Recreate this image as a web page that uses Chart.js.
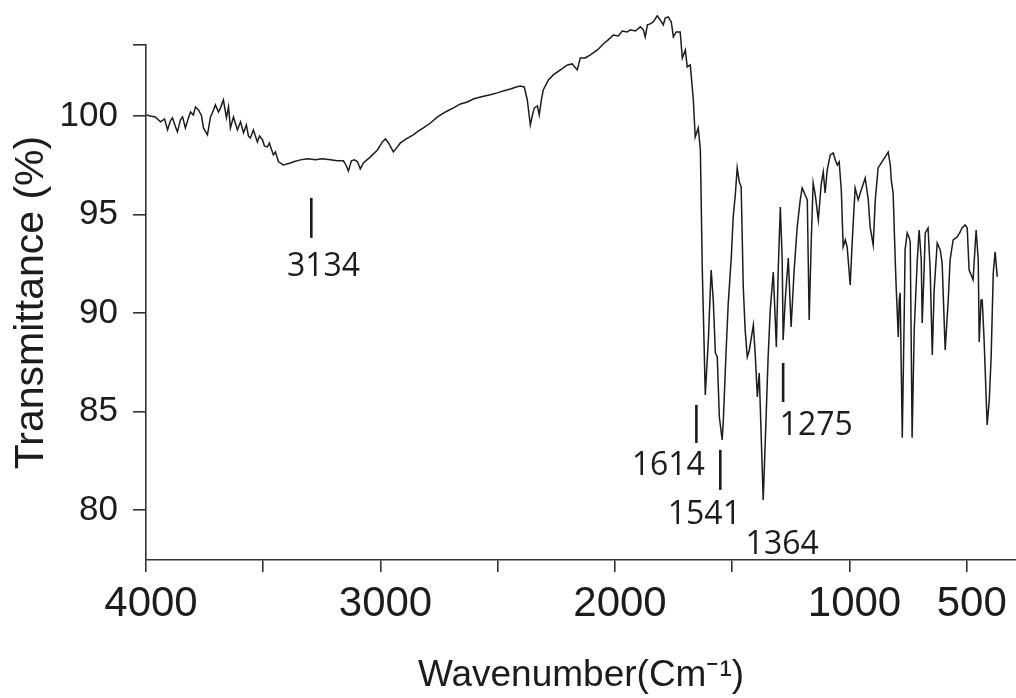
<!DOCTYPE html>
<html>
<head>
<meta charset="utf-8">
<title>IR spectrum</title>
<script src="https://cdn.jsdelivr.net/npm/chart.js@4.4.1/dist/chart.umd.min.js"></script>
<style>
  html, body { margin: 0; padding: 0; background: #fff; }
  #irChart { display: block; }
</style>
</head>
<body>
<canvas id="irChart" width="1016" height="698"></canvas>
<script>
// spectrum: wavenumber (cm-1) and transmittance (%)
const wavenumbers = [
  3998, 3981, 3960, 3938, 3921, 3908, 3896, 3887, 3874, 3866, 3853, 3844, 3832, 3819, 3810,
  3798, 3789, 3776, 3763, 3755, 3738, 3725, 3712, 3704, 3691, 3682, 3670, 3657, 3648, 3640,
  3627, 3610, 3597, 3584, 3572, 3563, 3555, 3542, 3525, 3516, 3503, 3495, 3482, 3474, 3457,
  3448, 3435, 3414, 3384, 3371, 3341, 3312, 3277, 3248, 3214, 3184, 3158, 3145, 3137, 3124,
  3111, 3098, 3086, 3073, 3043, 3013, 2992, 2979, 2966, 2945, 2928, 2915, 2890, 2860, 2838,
  2817, 2787, 2757, 2723, 2689, 2659, 2630, 2604, 2574, 2532, 2502, 2476, 2446, 2421, 2404,
  2387, 2374, 2361, 2352, 2344, 2331, 2323, 2314, 2306, 2284, 2263, 2233, 2203, 2182, 2169,
  2161, 2148, 2127, 2105, 2075, 2050, 2029, 2007, 1986, 1969, 1948, 1935, 1913, 1892, 1879,
  1871, 1862, 1850, 1837, 1820, 1807, 1794, 1786, 1773, 1760, 1751, 1739, 1722, 1713, 1700,
  1692, 1679, 1666, 1658, 1645, 1636, 1628, 1615, 1602, 1590, 1581, 1572, 1564, 1555, 1543,
  1538, 1526, 1517, 1504, 1496, 1487, 1479, 1470, 1462, 1453, 1445, 1436, 1427, 1410, 1402,
  1393, 1385, 1376, 1368, 1359, 1347, 1338, 1325, 1312, 1304, 1295, 1287, 1283, 1274, 1261,
  1249, 1236, 1223, 1210, 1202, 1189, 1180, 1172, 1163, 1155, 1146, 1133, 1121, 1112, 1104,
  1095, 1082, 1069, 1061, 1052, 1044, 1035, 1027, 1018, 1010, 997, 988, 976, 963, 950,
  933, 920, 912, 899, 890, 878, 856, 835, 826, 822, 814, 805, 801, 792, 788,
  784, 775, 767, 763, 754, 745, 741, 733, 724, 711, 703, 694, 690, 682, 677,
  665, 656, 647, 639, 626, 613, 605, 592, 579, 571, 558, 541, 528, 520, 507,
  498, 490, 481, 473, 460, 451, 447, 439, 434, 426, 413, 404, 396, 387, 379,
  370
];
const transmittance = [
  100.05, 100.00, 99.95, 99.70, 99.85, 99.29, 99.75, 99.90, 99.44, 99.19, 99.80, 99.95, 99.39, 99.90, 100.20,
  100.05, 100.46, 100.30, 100.00, 99.39, 99.04, 99.95, 100.30, 100.56, 100.20, 100.41, 100.81, 99.90, 100.46, 99.39,
  99.95, 99.29, 99.70, 99.14, 99.54, 98.98, 98.88, 99.29, 98.68, 98.98, 98.78, 98.48, 98.43, 98.63, 98.02,
  98.17, 97.67, 97.51, 97.61, 97.67, 97.77, 97.82, 97.77, 97.82, 97.77, 97.72, 97.72, 97.46, 97.21, 97.72,
  97.77, 97.67, 97.31, 97.61, 97.92, 98.27, 98.68, 98.83, 98.63, 98.17, 98.43, 98.63, 98.83, 99.04, 99.24,
  99.39, 99.64, 99.95, 100.20, 100.41, 100.61, 100.71, 100.86, 100.96, 101.07, 101.17, 101.27, 101.37, 101.47, 101.52,
  101.47, 100.81, 99.54, 100.05, 100.41, 100.51, 100.05, 100.81, 101.32, 101.83, 102.08, 102.34, 102.59, 102.64, 102.44,
  102.34, 102.94, 102.94, 103.10, 103.35, 103.65, 103.86, 104.11, 104.06, 104.31, 104.26, 104.37, 104.31, 104.52, 104.37,
  104.01, 104.62, 104.67, 104.77, 105.08, 104.87, 104.62, 104.97, 105.03, 104.77, 104.01, 104.26, 104.26, 102.94, 103.35,
  102.49, 102.59, 100.81, 98.93, 99.39, 98.27, 92.34, 85.84, 88.63, 92.18, 90.66, 87.97, 87.77, 84.72, 83.55,
  84.57, 88.12, 90.51, 92.84, 94.87, 95.99, 97.36, 96.65, 96.40, 91.32, 89.14, 87.77, 88.12, 89.39, 87.87,
  85.74, 86.95, 83.55, 80.51, 83.55, 87.77, 90.15, 92.08, 88.27, 92.18, 95.38, 92.69, 88.63, 90.66, 92.79,
  89.29, 92.18, 94.37, 95.74, 96.35, 95.99, 95.74, 89.64, 93.71, 96.60, 95.99, 94.72, 96.50, 97.16, 96.09,
  97.26, 98.02, 98.12, 97.77, 97.51, 97.67, 96.24, 93.35, 93.71, 93.35, 91.42, 93.71, 96.35, 95.74, 96.24,
  96.85, 95.74, 94.37, 93.45, 95.74, 97.36, 97.77, 98.17, 97.51, 96.75, 96.09, 92.69, 91.32, 88.78, 90.66,
  91.02, 83.66, 89.64, 93.20, 94.06, 93.81, 93.60, 83.66, 89.14, 92.69, 94.21, 92.69, 89.49, 92.18, 94.06,
  94.31, 92.18, 87.87, 91.17, 93.55, 93.20, 92.54, 88.12, 90.66, 92.69, 93.71, 93.86, 94.11, 94.31, 94.47,
  94.31, 92.18, 91.93, 91.68, 94.21, 92.69, 88.53, 90.66, 90.66, 88.63, 84.31, 85.58, 87.77, 92.03, 93.10,
  91.83
];

const xTickValues = [4000, 3500, 3000, 2500, 2000, 1500, 1000, 500];
const xTickLabels = ['4000', '', '3000', '', '2000', '', '1000', '500'];
const yTickValues = [80, 85, 90, 95, 100, 103.6];
const yTickLabels = ['80', '85', '90', '95', '100', ''];

// peak markers: label, bar position (cm-1, %T top, %T bottom), label centre (cm-1, %T)
const peakLabels = ['3134', '1614', '1541', '1364', '1275'];
const peakBarWn = [3295, 1653, 1551, null, 1283];
const peakBarTop = [95.84, 85.33, 83.05, null, 87.46];
const peakBarBottom = [93.81, 83.40, 81.02, null, 85.48];
const peakTextWn = [3243, 1773, 1619, 1287, 1142];
const peakTextT = [92.34, 82.23, 79.75, 78.22, 84.26];

const ink = '#1c1c1c';

const peakMarkers = {
  id: 'peakMarkers',
  afterDatasetsDraw(chart) {
    const { ctx, scales: { x, y } } = chart;
    ctx.save();
    ctx.strokeStyle = ink;
    ctx.lineWidth = 2.6;
    peakBarWn.forEach((wn, i) => {
      if (wn === null) return;
      const px = x.getPixelForValue(wn);
      ctx.beginPath();
      ctx.moveTo(px, y.getPixelForValue(peakBarTop[i]));
      ctx.lineTo(px, y.getPixelForValue(peakBarBottom[i]));
      ctx.stroke();
    });
    ctx.fillStyle = ink;
    ctx.font = '32px "Open Sans", "DejaVu Sans", sans-serif';
    ctx.textAlign = 'center';
    ctx.textBaseline = 'middle';
    peakLabels.forEach((label, i) => {
      ctx.fillText(label, x.getPixelForValue(peakTextWn[i]), y.getPixelForValue(peakTextT[i]));
    });
    ctx.restore();
  }
};

const points = wavenumbers.map((wn, i) => ({ x: wn, y: transmittance[i] }));

new Chart(document.getElementById('irChart'), {
  type: 'line',
  data: {
    datasets: [{
      data: points,
      borderColor: ink,
      borderWidth: 1.5,
      pointRadius: 0,
      tension: 0,
      fill: false,
      clip: false
    }]
  },
  options: {
    responsive: false,
    animation: false,
    layout: { padding: { top: 45, right: 0, left: 0, bottom: 0 } },
    plugins: {
      legend: { display: false },
      tooltip: { enabled: false }
    },
    scales: {
      x: {
        type: 'linear',
        reverse: true,
        min: 290,
        max: 4000,
        border: { color: '#333', width: 1.6 },
        grid: { drawOnChartArea: false, drawTicks: true, tickLength: 12, color: '#333', lineWidth: 1.6 },
        afterBuildTicks: (scale) => { scale.ticks = xTickValues.map(v => ({ value: v })); },
        afterFit: (scale) => { scale.height = 138; },
        ticks: {
          autoSkip: false,
          maxRotation: 0,
          padding: 7,
          labelOffset: 5,
          color: ink,
          font: { family: '"Liberation Sans", Arial, sans-serif', size: 42 },
          callback: (value, index) => xTickLabels[index]
        },
        title: {
          display: true,
          text: 'Wavenumber(Cm⁻¹)',
          color: ink,
          padding: { top: 0, bottom: 0 },
          font: { family: '"Liberation Sans", Arial, sans-serif', size: 37 }
        }
      },
      y: {
        min: 77.46,
        max: 103.6,
        border: { color: '#333', width: 1.6 },
        grid: { drawOnChartArea: false, drawTicks: true, tickLength: 13, color: '#333', lineWidth: 1.6 },
        afterBuildTicks: (scale) => { scale.ticks = yTickValues.map(v => ({ value: v })); },
        afterFit: (scale) => { scale.width = 146; },
        ticks: {
          padding: 15,
          color: ink,
          font: { family: '"Liberation Sans", Arial, sans-serif', size: 35 },
          callback: (value, index) => yTickLabels[index]
        },
        title: {
          display: true,
          text: 'Transmittance (%)',
          color: ink,
          padding: { top: 7, bottom: 0 },
          font: { family: '"Liberation Sans", Arial, sans-serif', size: 41 }
        }
      }
    }
  },
  plugins: [peakMarkers]
});
</script>
</body>
</html>
